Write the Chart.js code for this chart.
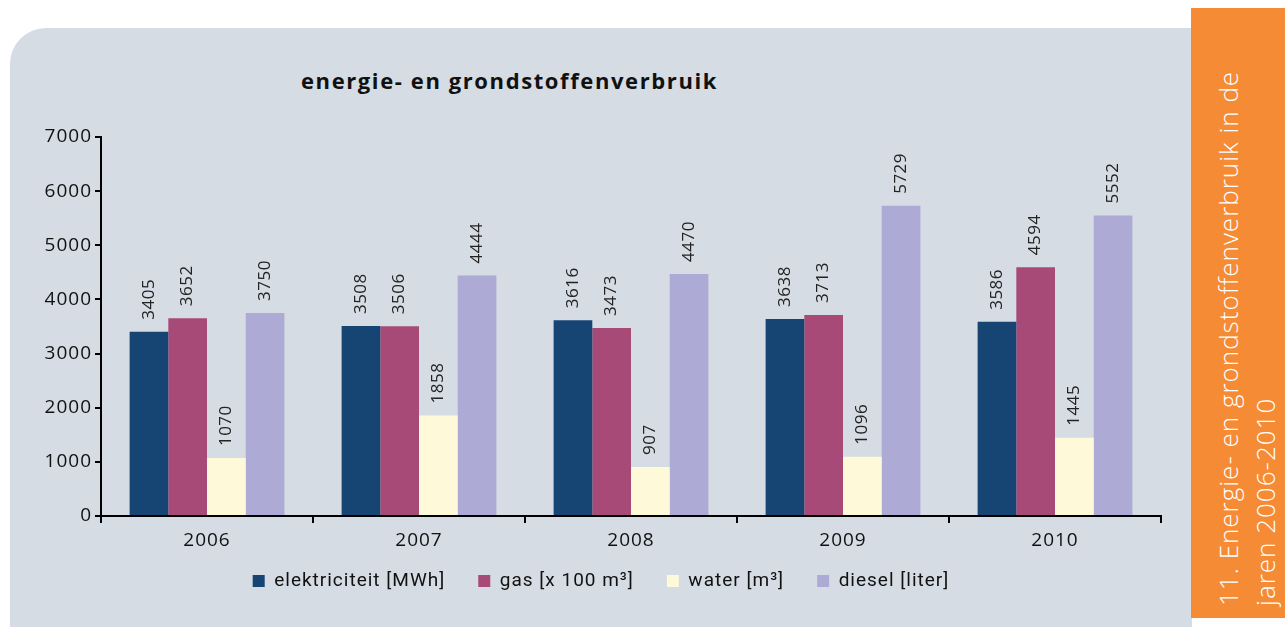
<!DOCTYPE html>
<html>
<head>
<meta charset="utf-8">
<script src="https://cdn.jsdelivr.net/npm/chart.js@4.4.1/dist/chart.umd.min.js"></script>
<style>
  html, body { margin: 0; padding: 0; background: #ffffff; }
  body { width: 1285px; height: 627px; position: relative; overflow: hidden; }
  #panel { position: absolute; left: 10px; top: 28px; width: 1182px; height: 599px;
           background: #D5DCE4; border-top-left-radius: 36px; }
  #side { position: absolute; left: 1191px; top: 8px; width: 94px; height: 610px; background: #F58B35; }
  #sideText { position: absolute; left: 1210px; top: 606px; width: 580px; height: 80px;
              transform-origin: 0 0; transform: rotate(-90deg);
              font-family: "Open Sans", sans-serif; font-weight: 300; font-size: 26px;
              letter-spacing: 1px; line-height: 37px; color: #ffffff; white-space: nowrap; }
  #title { position: absolute; left: 301px; top: 65px; font-family: "Open Sans", sans-serif;
           font-weight: 700; font-size: 22px; letter-spacing: 1.6px; color: #111; white-space: nowrap; }
  #wrap { position: absolute; left: 10px; top: 28px; width: 1182px; height: 599px; }
</style>
</head>
<body>
<div id="panel"></div>
<div id="side"></div>
<div id="sideText">11. Energie- en grondstoffenverbruik in de<br>jaren 2006-2010</div>
<div id="title">energie- en grondstoffenverbruik</div>
<div id="wrap"><canvas id="c" width="1182" height="599"></canvas></div>
<script>
const years = ["2006", "2007", "2008", "2009", "2010"];
const seriesNames = ["elektriciteit [MWh]", "gas [x 100 m³]", "water [m³]", "diesel [liter]"];
const elektriciteit = [3405, 3508, 3616, 3638, 3586];
const gas = [3652, 3506, 3473, 3713, 4594];
const water = [1070, 1858, 907, 1096, 1445];
const diesel = [3750, 4444, 4470, 5729, 5552];
const seriesColors = ["#164573", "#A84A78", "#FEF9D8", "#ADABD5"];
const yTicks = [0, 1000, 2000, 3000, 4000, 5000, 6000, 7000];

const seriesValues = [elektriciteit, gas, water, diesel];

const spacing = {
  id: "spacing",
  beforeUpdate(chart) { chart.ctx.letterSpacing = "1px"; },
  beforeDraw(chart) { chart.ctx.letterSpacing = "1px"; }
};

const legendPlace = {
  id: "legendPlace",
  beforeInit(chart) {
    const lg = chart.legend;
    if (!lg) return;
    const orig = lg.fit;
    lg.fit = function () { orig.call(this); this.height = 66; };
  },
  afterLayout(chart) {
    const lg = chart.legend;
    if (!lg) return;
    const h = lg.height;
    lg.top = 510.5;
    lg.bottom = lg.top + h;
  }
};

const valueLabels = {
  id: "valueLabels",
  afterDatasetsDraw(chart) {
    const ctx = chart.ctx;
    ctx.save();
    ctx.letterSpacing = "0.5px";
    ctx.font = "17px 'Open Sans', sans-serif";
    ctx.fillStyle = "#222";
    ctx.textAlign = "left";
    ctx.textBaseline = "middle";
    chart.data.datasets.forEach((ds, di) => {
      const meta = chart.getDatasetMeta(di);
      meta.data.forEach((bar, i) => {
        ctx.save();
        ctx.translate(bar.x, bar.y - 12);
        ctx.rotate(-Math.PI / 2);
        ctx.fillText(String(ds.data[i]), 0, 0);
        ctx.restore();
      });
    });
    ctx.restore();
  }
};

new Chart(document.getElementById("c"), {
  type: "bar",
  data: {
    labels: years,
    datasets: seriesNames.map((name, k) => ({
      label: name,
      data: seriesValues[k],
      backgroundColor: seriesColors[k],
      borderWidth: 0,
      categoryPercentage: 0.73,
      barPercentage: 1.0
    }))
  },
  options: {
    responsive: false,
    animation: false,
    layout: { padding: { left: 31, right: 31, top: 109, bottom: 0 } },
    plugins: {
      title: { display: false },
      tooltip: { enabled: false },
      legend: {
        display: true,
        position: "bottom",
        labels: {
          boxWidth: 12, boxHeight: 12, padding: 33,
          color: "#111",
          font: { family: "Roboto, sans-serif", size: 19 }
        }
      }
    },
    scales: {
      x: {
        grid: { display: true, drawOnChartArea: false, drawTicks: true, tickLength: 7, color: "#000", lineWidth: 2, offset: true },
        border: { display: true, color: "#000", width: 2 },
        ticks: { color: "#111", padding: 6, font: { family: "'Open Sans', sans-serif", size: 19 } },
        afterFit(scale) { scale.height = 45; }
      },
      y: {
        min: 0, max: 7000,
        afterBuildTicks(scale) { scale.ticks = yTicks.map(v => ({ value: v })); },
        grid: { display: true, drawOnChartArea: false, drawTicks: true, tickLength: 6, color: "#000", lineWidth: 2 },
        border: { display: true, color: "#000", width: 2 },
        ticks: { color: "#111", padding: 3, font: { family: "'Open Sans', sans-serif", size: 19 },
                 callback: (v) => String(v) },
        afterFit(scale) { scale.width = 60; }
      }
    }
  },
  plugins: [spacing, legendPlace, valueLabels]
});
</script>
</body>
</html>
